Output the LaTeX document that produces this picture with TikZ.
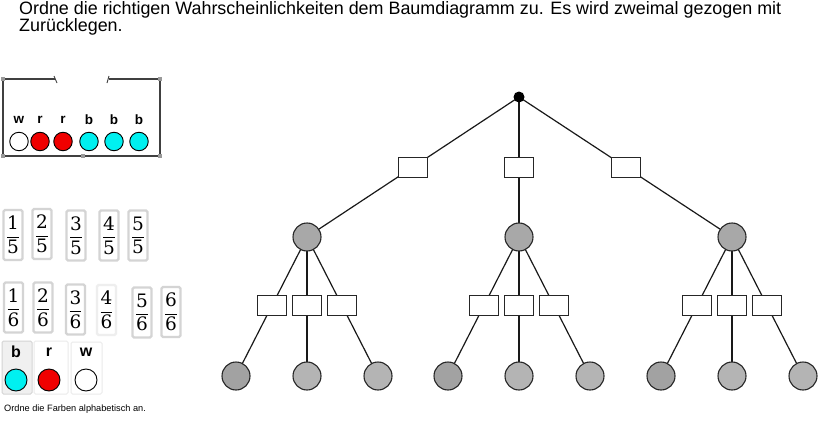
\documentclass[tikz,border=0pt]{standalone}
\usepackage[no-math]{fontspec}
\setmainfont{Liberation Sans}
\newfontfamily\cardfont{DejaVu Serif}
\usepackage{amsmath}
\usetikzlibrary{positioning,calc}

\definecolor{ballcyan}{HTML}{00F0F0}
\definecolor{ballred}{HTML}{F00000}
\definecolor{cardgray}{HTML}{D4D4D4}
\definecolor{knotgray}{HTML}{A8A8A8}
\definecolor{leafdark}{HTML}{A2A2A2}
\definecolor{leaflight}{HTML}{B4B4B4}

\newcommand{\kartenbruch}[2]{$\dfrac{\text{\cardfont #1}}{\text{\cardfont #2}}$}

\tikzset{
  rootdot/.style={circle, fill=black, inner sep=0pt, minimum size=11pt},
  knot/.style={circle, draw=black!85, line width=1.1pt, fill=knotgray, inner sep=0pt, minimum size=28pt},
  probbox/.style={rectangle, draw=black!85, line width=1pt, fill=white, inner sep=0pt, minimum width=29pt, minimum height=20pt},
  branch/.style={line width=1.2pt, black!90},
  ball/.style={circle, draw=black, line width=0.9pt, inner sep=0pt, minimum size=18.5pt},
  card/.style={rectangle, draw=cardgray, line width=2.2pt, rounded corners=1.5pt, fill=white, inner sep=0pt, minimum width=19pt, minimum height=50pt, font=\fontsize{18.5}{21}\selectfont},
  handle/.style={fill=gray!80, minimum size=3.5pt, inner sep=0pt}
}

\begin{document}
\begin{tikzpicture}[x=1pt, y=-1pt]
		%%%%% START %%%%%
		\useasboundingbox[fill=white] (0,0) rectangle (822,431);
		
		% Aufgabe
		\node[anchor=base west, inner sep=0pt, font=\fontsize{17.9}{20}\selectfont] (titel1) at (19,14.5)
		  {Ordne die richtigen Wahrscheinlichkeiten dem Baumdiagramm zu. Es wird zweimal gezogen mit};
		\node[anchor=base west, inner sep=0pt, font=\fontsize{17.9}{20}\selectfont] (titel2) at (19,31.5) {Zurücklegen.};
		
		% Urne
		\draw[line width=1.1pt, black!75] (55,79) -- (3,79) -- (3,156) -- (160,156) -- (160,79) -- (109,79);
		\draw[line width=0.9pt, black!75] (54,76) -- (57,83);
		\draw[line width=0.9pt, black!75] (107,83) -- (109,76);
		\foreach \hx/\hy in {3/79, 160/79, 3/156, 160/156, 83/156}
		  \node[handle] at (\hx,\hy) {};
		\foreach \i/\x/\l/\c in {1/19/w/white, 2/40/r/ballred, 3/63/r/ballred, 4/89/b/ballcyan, 5/114/b/ballcyan, 6/139/b/ballcyan} {
		  \node[font=\bfseries\fontsize{13.5}{15}\selectfont] (u\i) at (\x,120) {\l};
		  \node[ball, fill=\c] (k\i) at (\x,141.5) {};
		}
		
		% Brueche
		\foreach \n/\x/\y in {1/13/235, 2/42/234, 3/76/235.5, 4/109/235.5, 5/138/235.5}
		  \node[card] (f5\n) at (\x,\y) {\kartenbruch{\n}{5}};
		\foreach \n/\x/\y in {1/13.5/307.5, 2/43/307.5, 3/75.5/309.5, 5/142/312.5, 6/171/312}
		  \node[card] (f6\n) at (\x,\y) {\kartenbruch{\n}{6}};
		\node[card, draw=cardgray!40] (f64) at (106.5,310) {\kartenbruch{4}{6}};
		
		% Farben
		\draw[draw=cardgray, fill=black!6, line width=1pt, rounded corners=1.5pt] (2,341) rectangle (32,394);
		\draw[draw=black!8, line width=1pt, rounded corners=1.5pt] (34,341) rectangle (68,394);
		\draw[draw=black!8, line width=1pt, rounded corners=1.5pt] (71,342) rectangle (102,394);
		\foreach \i/\x/\l/\c in {1/16/b/ballcyan, 2/49/r/ballred, 3/86/w/white} {
		  \node[font=\bfseries\fontsize{16}{18}\selectfont] (fl\i) at (\x,352) {\l};
		  \node[ball, fill=\c, minimum size=22pt] (fb\i) at (\x,380) {};
		}
		\node[anchor=base west, inner sep=0pt, font=\fontsize{9.2}{11}\selectfont] (hinweis) at (4,411) {Ordne die Farben alphabetisch an.};
		
		% Baumdiagramm
		\coordinate (s) at (519,97);
		\foreach \k/\x in {1/307, 2/519, 3/732} {
		  \coordinate (c\k) at (\x,237);
		  \foreach \j/\d in {1/-71, 2/0, 3/71}
		    \coordinate (l\k\j) at (\x+\d,376);
		}
		\foreach \k in {1,2,3} {
		  \draw[branch] (s) -- (c\k);
		  \foreach \j in {1,2,3}
		    \draw[branch] (c\k) -- (l\k\j);
		}
		
		\node[rootdot] (start) at (s) {};
		\foreach \k in {1,2,3} {
		  \node[probbox] (p\k) at ($(s)!0.5!(c\k)$) {};
		  \node[knot] (n\k) at (c\k) {};
		  \foreach \j in {1,2,3}
		    \node[probbox] (p\k\j) at ($(c\k)!0.49!(l\k\j)$) {};
		  \node[knot, fill=leafdark] (b\k1) at (l\k1) {};
		  \node[knot, fill=leaflight] (b\k2) at (l\k2) {};
		  \node[knot, fill=leaflight] (b\k3) at (l\k3) {};
		}
		%%%%% END %%%%%
\end{tikzpicture}
\end{document}
